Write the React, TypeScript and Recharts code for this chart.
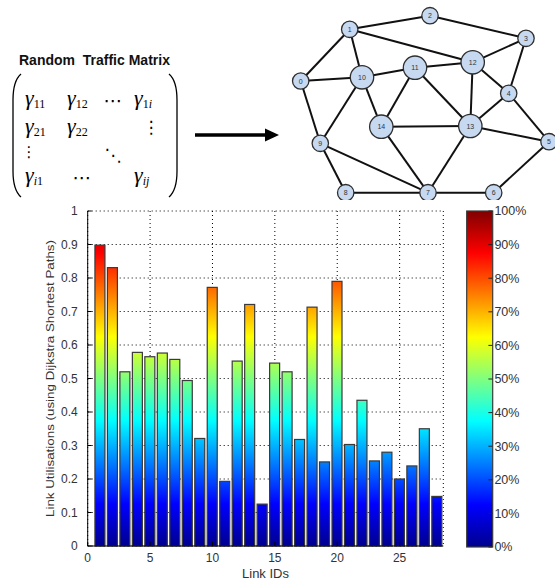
import React from 'react';
import { BarChart, Bar, XAxis, YAxis, CartesianGrid, ScatterChart, Scatter } from 'recharts';

// ---------- data ----------
const linkIds = [1, 2, 3, 4, 5, 6, 7, 8, 9, 10, 11, 12, 13, 14, 15, 16, 17, 18, 19, 20, 21, 22, 23, 24, 25, 26, 27, 28];
const utilisation = [0.898, 0.831, 0.52, 0.578, 0.565, 0.576, 0.557, 0.494, 0.321, 0.772, 0.193, 0.552, 0.721, 0.125,
  0.546, 0.52, 0.318, 0.713, 0.251, 0.79, 0.303, 0.435, 0.254, 0.28, 0.2, 0.239, 0.35, 0.148];
const xTicks = [0, 5, 10, 15, 20, 25];
const yTicks = [0, 0.1, 0.2, 0.3, 0.4, 0.5, 0.6, 0.7, 0.8, 0.9, 1];
const colourTicks = [0, 0.1, 0.2, 0.3, 0.4, 0.5, 0.6, 0.7, 0.8, 0.9, 1];
const colourBarValue = [1];

// network topology (layout coordinates of the diagram)
const nodeIds = [0, 1, 2, 3, 4, 5, 6, 7, 8, 9, 10, 11, 12, 13, 14];
const nodeX = [20.7, 69.7, 150, 246, 228.7, 269, 213.7, 148, 65.7, 40.3, 82, 135, 192.7, 190.3, 101.3];
const nodeY = [81, 29.3, 15.7, 38.3, 93.3, 141.7, 192.7, 192.7, 192.7, 143.3, 77.3, 67.7, 62.3, 126, 126.7];
const links: [number, number][] = [
  [1, 2], [2, 3], [1, 12], [0, 1], [1, 10], [0, 10], [0, 9], [10, 11], [11, 12], [3, 12],
  [3, 4], [4, 12], [12, 13], [10, 14], [9, 10], [11, 14], [11, 13], [13, 14], [4, 13], [4, 5],
  [5, 13], [7, 14], [7, 13], [7, 9], [8, 9], [7, 8], [6, 7], [5, 6],
];
const largeNodes = [10, 11, 12, 13, 14];

// ---------- colour map ----------
const JET: [number, [number, number, number]][] = [
  [0, [0, 0, 143]], [0.125, [0, 0, 255]], [0.375, [0, 255, 255]],
  [0.625, [255, 255, 0]], [0.875, [255, 0, 0]], [1, [128, 0, 0]],
];
const rgb = (c: [number, number, number]) => `rgb(${Math.round(c[0])},${Math.round(c[1])},${Math.round(c[2])})`;
function jetAt(t: number): string {
  for (let i = 1; i < JET.length; i++) {
    const [t0, c0] = JET[i - 1];
    const [t1, c1] = JET[i];
    if (t <= t1) {
      const f = (t - t0) / (t1 - t0);
      return rgb([c0[0] + (c1[0] - c0[0]) * f, c0[1] + (c1[1] - c0[1]) * f, c0[2] + (c1[2] - c0[2]) * f]);
    }
  }
  return rgb(JET[JET.length - 1][1]);
}

const barData = linkIds.map((id, i) => ({ id, u: utilisation[i] }));
const colourData = colourBarValue.map((u) => ({ k: 'cb', u }));
const nodeData = nodeIds.map((id, i) => ({ id, x: nodeX[i], y: nodeY[i] }));
const linkData = links.map(([a, b]) => [nodeData[a], nodeData[b]]);

const SANS = "'Liberation Sans', Arial, sans-serif";
const SERIF = "'Liberation Serif', 'Times New Roman', serif";

const makeGradientBar = (prefix: string) => (props: any) => {
  const { x, y, width, height, payload, index } = props;
  const v: number = payload.u;
  const id = `${prefix}-${index}`;
  const stops = JET.filter(([t]) => t < v).map(([t, c], k) => (
    <stop key={k} offset={t / v} stopColor={rgb(c)} />
  ));
  return (
    <g>
      <defs>
        <linearGradient id={id} x1="0" y1="1" x2="0" y2="0">
          {stops}
          <stop offset={1} stopColor={jetAt(v)} />
        </linearGradient>
      </defs>
      <rect x={x} y={y} width={width} height={height} fill={`url(#${id})`} stroke="#3a3a3a" strokeWidth={1.2} />
    </g>
  );
};

const NodeShape = (props: any) => {
  const { cx, cy, payload } = props;
  const r = largeNodes.includes(payload.id) ? 11.7 : 8.2;
  return (
    <g>
      <circle cx={cx} cy={cy} r={r} fill="#c6d9f1" stroke="#2e2e2e" strokeWidth={1.3} />
      <text x={cx} y={cy} textAnchor="middle" dominantBaseline="central" fontSize={7} fontFamily={SANS} fill="#333">
        {payload.id}
      </text>
    </g>
  );
};
const NoShape = () => <g />;

const YLabel = (props: any) => {
  const vb = props.viewBox;
  const cx = vb.x + 50;
  const cy = vb.y + vb.height / 2;
  return (
    <text
      x={cx}
      y={cy}
      transform={`rotate(-90 ${cx} ${cy})`}
      textAnchor="middle"
      dominantBaseline="central"
      fontFamily={SANS}
      fontSize={11}
      fill="#333"
      textLength={277}
      lengthAdjust="spacingAndGlyphs"
    >
      Link Utilisations (using Dijkstra Shortest Paths)
    </text>
  );
};

const Gamma = ({ x, y, sub }: { x: number; y: number; sub: [string, boolean][] }) => (
  <text x={x} y={y} fontFamily={SERIF} fontSize={22} fill="#000">
    <tspan fontStyle="italic">γ</tspan>
    {sub.map(([c, it], k) => (
      <tspan key={k} fontSize={12} fontStyle={it ? 'italic' : 'normal'} dy={k === 0 ? 3 : 0}>
        {c}
      </tspan>
    ))}
  </text>
);

const Dots = ({ x, y, ch, size = 19 }: { x: number; y: number; ch: string; size?: number }) => (
  <text x={x} y={y} textAnchor="middle" dominantBaseline="central" fontFamily="'DejaVu Serif', 'DejaVu Sans', serif" fontSize={size} fill="#000">
    {ch}
  </text>
);

export default function App() {
  return (
    <div style={{ position: 'absolute', left: 0, top: 0, width: 555, height: 581, background: '#fff', overflow: 'hidden', fontFamily: SANS }}>
      {/* traffic matrix + arrow */}
      <svg width={280} height={200} style={{ position: 'absolute', left: 0, top: 0 }}>
        <text x={19} y={65} fontFamily={SANS} fontWeight="bold" fontSize={14} fill="#111" xmlSpace="preserve" style={{ whiteSpace: 'pre' }}>
          Random  Traffic Matrix
        </text>
        <path d="M 21 74 C 14 80, 13 90, 13 100 L 13 171 C 13 181, 14 191, 21 197" fill="none" stroke="#000" strokeWidth={1.3} />
        <path d="M 169 74 C 176 80, 177 90, 177 100 L 177 171 C 177 181, 176 191, 169 197" fill="none" stroke="#000" strokeWidth={1.3} />
        <Gamma x={25} y={105} sub={[['11', false]]} />
        <Gamma x={67} y={105} sub={[['12', false]]} />
        <Dots x={113} y={100} ch="⋯" />
        <Gamma x={134} y={105} sub={[['1', false], ['i', true]]} />
        <Gamma x={25} y={133} sub={[['21', false]]} />
        <Gamma x={67} y={133} sub={[['22', false]]} />
        <Dots x={151} y={127} ch="⋮" size={17} />
        <Dots x={29} y={152} ch="⋮" size={15} />
        <Dots x={113} y={155} ch="⋱" size={17} />
        <Gamma x={25} y={182} sub={[['i', true], ['1', false]]} />
        <Dots x={82} y={177} ch="⋯" />
        <Gamma x={134} y={182} sub={[['ij', true]]} />
        <line x1={195} y1={135} x2={268} y2={135} stroke="#000" strokeWidth={3.5} />
        <polygon points="265,128.5 279,135 265,141.5" fill="#000" />
      </svg>

      {/* network topology */}
      <div style={{ position: 'absolute', left: 280, top: 0 }}>
        <ScatterChart width={275} height={200} margin={{ top: 0, right: 0, bottom: 0, left: 0 }}>
          <XAxis type="number" dataKey="x" domain={[0, 275]} hide height={0} />
          <YAxis type="number" dataKey="y" domain={[0, 200]} reversed hide width={0} />
          {linkData.map((pair, i) => (
            <Scatter
              key={`l${i}`}
              data={pair}
              line={{ stroke: '#111', strokeWidth: 2 }}
              shape={NoShape}
              isAnimationActive={false}
            />
          ))}
          <Scatter data={nodeData} shape={NodeShape} isAnimationActive={false} />
        </ScatterChart>
      </div>

      {/* link utilisation bars */}
      <div style={{ position: 'absolute', left: 0, top: 195 }}>
        <BarChart width={460} height={386} data={barData} margin={{ top: 16, right: 16.7, bottom: 5, left: 0 }}>
          <CartesianGrid stroke="#000" strokeDasharray="1 3" strokeWidth={1} />
          <XAxis
            type="number"
            dataKey="id"
            domain={[0, 28.5]}
            ticks={xTicks}
            allowDataOverflow
            height={30}
            tickSize={-4}
            tickMargin={11}
            stroke="#000"
            tick={{ fill: '#333', fontSize: 12, fontFamily: SANS }}
            label={{ value: 'Link IDs', position: 'insideBottom', offset: -2, fill: '#333', fontSize: 13, fontFamily: SANS }}
          />
          <XAxis xAxisId="top" orientation="top" type="number" domain={[0, 28.5]} ticks={xTicks} allowDataOverflow height={0} tick={false} tickSize={-4} stroke="#000" />
          <YAxis
            type="number"
            domain={[0, 1]}
            ticks={yTicks}
            width={87.7}
            tickSize={-4}
            tickMargin={14}
            stroke="#000"
            tick={{ fill: '#333', fontSize: 12, fontFamily: SANS }}
            label={YLabel}
          />
          <YAxis yAxisId="right" orientation="right" type="number" domain={[0, 1]} ticks={yTicks} width={0} tick={false} tickSize={-4} stroke="#000" />
          <Bar dataKey="u" barSize={10} shape={makeGradientBar('ug')} isAnimationActive={false} />
        </BarChart>
      </div>

      {/* colour bar */}
      <div style={{ position: 'absolute', left: 460, top: 195 }}>
        <BarChart width={95} height={386} data={colourData} margin={{ top: 16, right: 0, bottom: 34, left: 6.7 }} barCategoryGap={0}>
          <XAxis dataKey="k" hide height={0} />
          <YAxis
            orientation="right"
            type="number"
            domain={[0, 1]}
            ticks={colourTicks}
            width={62.6}
            tickSize={-4}
            tickMargin={6}
            axisLine={false}
            stroke="#222"
            tick={{ fill: '#333', fontSize: 12.5, fontFamily: SANS, textAnchor: 'start' }}
            tickFormatter={(v: number) => `${Math.round(v * 100)}%`}
          />
          <Bar dataKey="u" shape={makeGradientBar('cb')} isAnimationActive={false} />
        </BarChart>
      </div>
    </div>
  );
}
